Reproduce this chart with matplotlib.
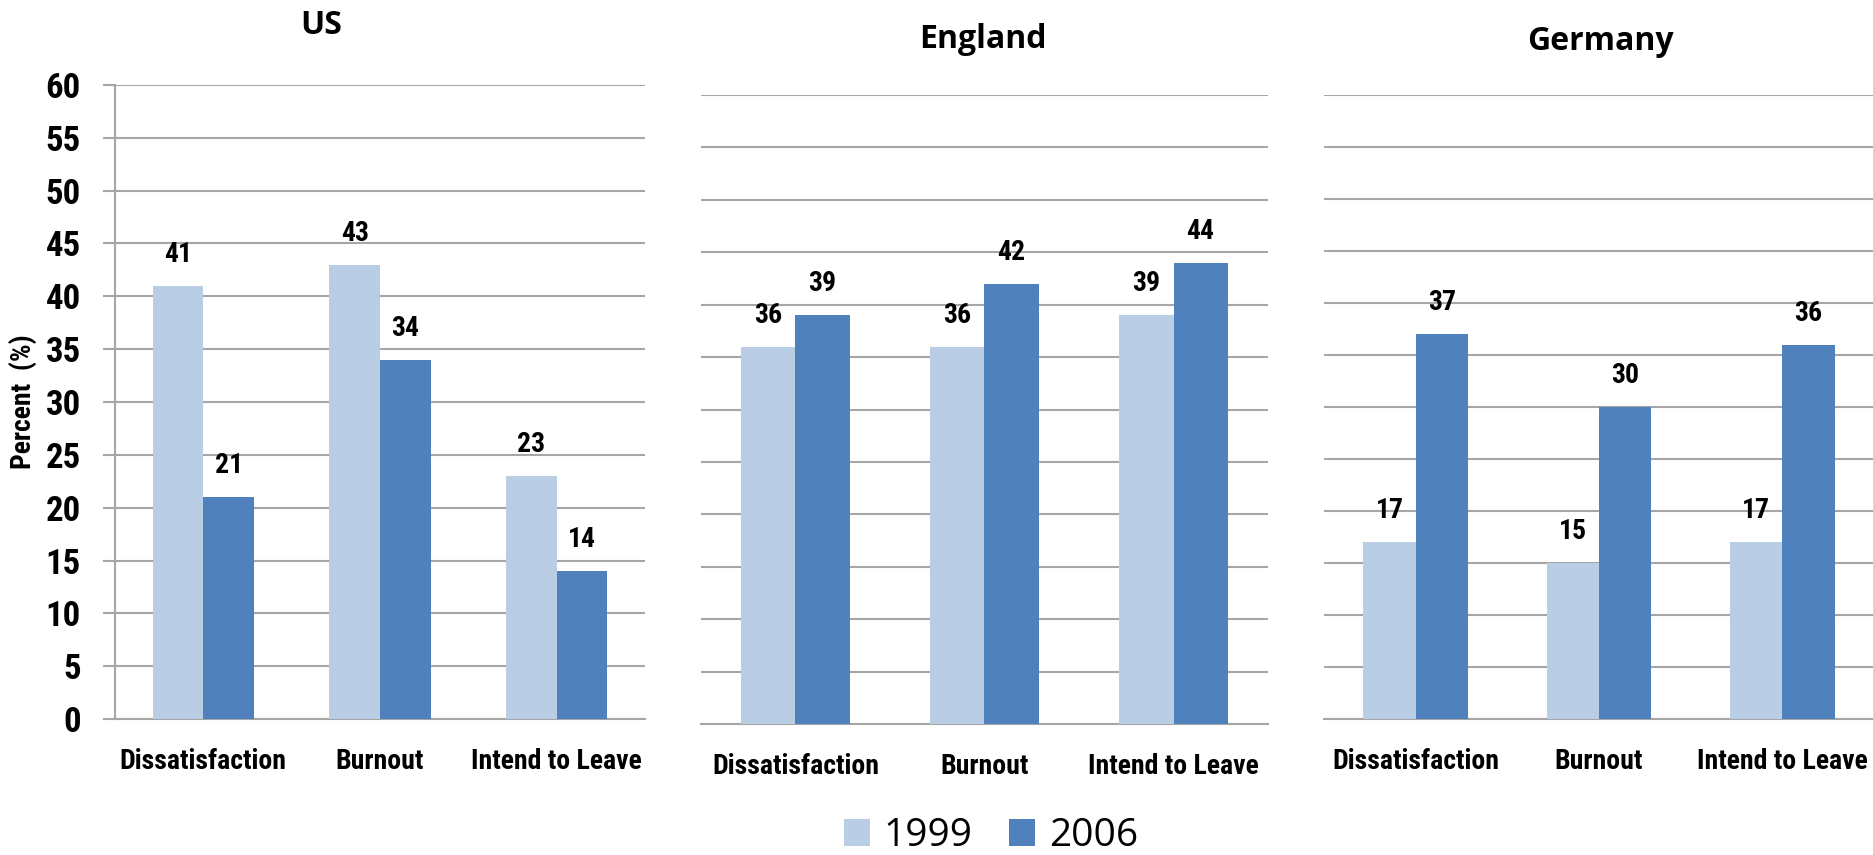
import matplotlib
matplotlib.use('Agg')
import matplotlib.pyplot as plt
import numpy as np
from matplotlib import font_manager

# data
countries = ['US', 'England', 'Germany']
categories = ['Dissatisfaction', 'Burnout', 'Intend to Leave']
years = ['1999', '2006']
us_1999 = [41, 43, 23]
us_2006 = [21, 34, 14]
eng_1999 = [36, 36, 39]
eng_2006 = [39, 42, 44]
ger_1999 = [17, 15, 17]
ger_2006 = [37, 30, 36]
y_ticks = list(range(0, 61, 5))

light = '#B9CDE5'
dark = '#4F81BD'
grid_col = '#A6A6A6'

# pick the narrowest font we can find for the "Agency" look
installed = {f.name for f in font_manager.fontManager.ttflist}
narrow = 'DejaVu Sans'
for cand in ['Roboto Condensed', 'Liberation Sans Narrow', 'DejaVu Sans Condensed']:
    if cand in installed:
        narrow = cand
        break

W, H = 1874, 855
fig = plt.figure(figsize=(W / 100, H / 100), dpi=100)

# axes boxes in pixels: left, right, top(60), bottom(0)
boxes = [(115, 645, 85, 719), (701, 1268, 95, 724), (1324, 1874, 95, 719)]
title_pos = [(321, 25), (983, 40), (1600, 42)]
data = [(us_1999, us_2006), (eng_1999, eng_2006), (ger_1999, ger_2006)]

x = np.arange(len(categories))
bw = 0.286

for i, (l, r, t, b) in enumerate(boxes):
    ax = fig.add_axes([l / W, 1 - b / H, (r - l) / W, (b - t) / H])
    v1, v2 = data[i]
    bars1 = ax.bar(x - bw / 2, v1, bw, color=light, zorder=3, label=years[0])
    bars2 = ax.bar(x + bw / 2, v2, bw, color=dark, zorder=3, label=years[1])
    for bars in (bars1, bars2):
        for rect in bars:
            h = rect.get_height()
            ax.annotate(f'{h:.0f}', (rect.get_x() + rect.get_width() / 2, h),
                        xytext=(0, 13), textcoords='offset points',
                        ha='center', va='bottom', fontsize=20,
                        family=narrow, fontweight='bold')
    ax.set_xlim(-0.5, 2.5)
    ax.set_ylim(0, 60)
    ax.set_yticks(y_ticks)
    ax.yaxis.grid(True, color=grid_col, lw=1.5, zorder=0)
    ax.set_xticks(x)
    ax.set_xticklabels(categories, fontsize=20, family=narrow, fontweight='bold')
    ax.tick_params(axis='x', length=0, pad=21)
    for s in ['top', 'right']:
        ax.spines[s].set_visible(False)
    ax.spines['bottom'].set_color(grid_col)
    ax.spines['bottom'].set_linewidth(1.5)
    if i == 0:
        ax.spines['left'].set_color(grid_col)
        ax.spines['left'].set_linewidth(1.5)
        ax.tick_params(axis='y', length=8.6, width=1.5, color=grid_col, pad=16)
        ax.set_yticklabels([str(v) for v in y_ticks], fontsize=25,
                           family=narrow, fontweight='bold')
        ax.set_ylabel('Percent  (%)', fontsize=20, family=narrow,
                      fontweight='bold')
        ax.yaxis.set_label_coords(-(115 - 37) / (r - l), (b - 402) / (b - t))
    else:
        ax.spines['left'].set_visible(False)
        ax.tick_params(axis='y', length=0, labelleft=False)
    fig.text(title_pos[i][0] / W, 1 - title_pos[i][1] / H, countries[i],
             ha='center', va='center', fontsize=23, family='Open Sans',
             fontweight='bold')
    if i == 0:
        handles = [bars1, bars2]

fig.legend(handles, years, loc='center', bbox_to_anchor=(991 / W, 1 - 836 / H),
           ncol=2, frameon=False, handlelength=0.67,
           handleheight=0.67, handletextpad=0.36, columnspacing=0.93,
           borderpad=0, prop={'family': 'Open Sans', 'size': 28})

fig.savefig('out.png', dpi=100)
